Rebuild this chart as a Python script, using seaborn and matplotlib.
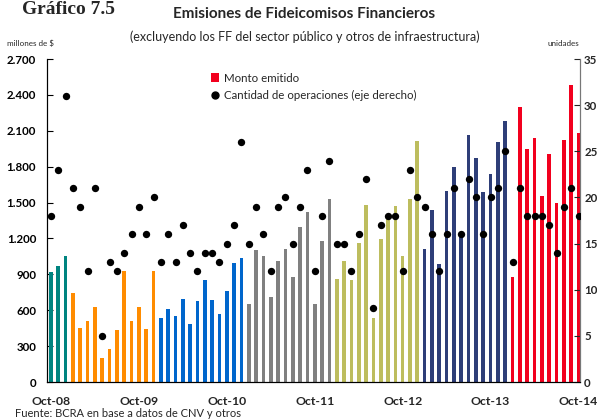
import pandas as pd
import numpy as np
import seaborn as sns
import matplotlib.pyplot as plt
from matplotlib.lines import Line2D
from matplotlib.patches import Patch

# Monto emitido (millones de $), por año (2008 desde octubre, 2014 hasta octubre)
monto_2008 = [918, 968, 1052]
monto_2009 = [742, 452, 508, 625, 198, 273, 432, 926, 508, 625, 441, 926]
monto_2010 = [533, 608, 550, 692, 483, 675, 851, 684, 566, 759, 993, 1035]
monto_2011 = [650, 1102, 1052, 709, 1010, 1110, 876, 1295, 1420, 650, 1177, 1529]
monto_2012 = [859, 1010, 851, 1161, 1479, 533, 1194, 1395, 1470, 1052, 1529, 2014]
monto_2013 = [1110, 1437, 985, 1596, 1797, 1250, 2065, 1872, 1588, 1738, 2006, 2182]
monto_2014 = [876, 2299, 1947, 2039, 1554, 1906, 1495, 2023, 2483, 2081]

# Cantidad de operaciones (unidades)
ops_2008 = [18, 23, 31]
ops_2009 = [21, 19, 12, 21, 5, 13, 12, 14, 16, 19, 16, 20]
ops_2010 = [13, 16, 13, 17, 14, 12, 14, 14, 13, 15, 17, 26]
ops_2011 = [15, 19, 16, 12, 19, 20, 15, 19, 23, 12, 18, 24]
ops_2012 = [15, 15, 12, 16, 22, 8, 17, 18, 18, 12, 23, 20]
ops_2013 = [19, 16, 12, 16, 21, 16, 22, 20, 16, 20, 21, 25]
ops_2014 = [13, 21, 18, 18, 18, 17, 14, 19, 21, 18]

years = ['2008', '2009', '2010', '2011', '2012', '2013', '2014']
year_colors = ['#008480', '#FF8C00', '#0066CC', '#808080', '#BDBD5E', '#2E3E78', '#F2001E']
tick_labels = ['Oct-08', 'Oct-09', 'Oct-10', 'Oct-11', 'Oct-12', 'Oct-13', 'Oct-14']

montos = [monto_2008, monto_2009, monto_2010, monto_2011, monto_2012, monto_2013, monto_2014]
opss = [ops_2008, ops_2009, ops_2010, ops_2011, ops_2012, ops_2013, ops_2014]

data = pd.DataFrame({
    'anio': [y for y, m in zip(years, montos) for _ in m],
    'monto': [v for m in montos for v in m],
    'ops': [v for o in opss for v in o],
})
data['pos'] = np.arange(len(data))
data['mes'] = [f'm{i:02d}' for i in data['pos']]

sns.set_style('white')
plt.rcParams['font.family'] = ['Lato', 'DejaVu Sans']

fig = plt.figure(figsize=(5.97, 4.19), dpi=100)
ax = fig.add_axes([0.0792, 0.0883, 0.8923, 0.7707])

# bars: one category per month, coloured by year
sns.barplot(data=data, x='mes', y='monto', hue='anio', palette=year_colors,
            dodge=False, width=0.5, legend=False, ax=ax, saturation=1,
            linewidth=0)

ax2 = ax.twinx()
sns.scatterplot(data=data, x='pos', y='ops', color='black', s=28,
                edgecolor='black', linewidth=0, ax=ax2, zorder=5)

ax.set_xlim(-0.5, 72.2)
ax2.set_xlim(-0.5, 72.2)
ax.set_ylim(0, 2700)
ax2.set_ylim(0, 35)

ax.set_yticks(np.arange(0, 2701, 300))
ax.set_yticklabels([f'{v:,}'.replace(',', '.') for v in range(0, 2701, 300)],
                   fontweight='bold', fontsize=8.3)
ax2.set_yticks(np.arange(0, 36, 5))
ax2.set_yticklabels([str(v) for v in range(0, 36, 5)], fontweight='bold', fontsize=8.3)

ax.set_xticks(np.arange(0, 73, 12))
ax.set_xticklabels(tick_labels, fontweight='bold', fontsize=8.8)
ax.set_xticks(np.arange(11.5, 72, 12), minor=True)

ax.tick_params(axis='y', direction='in', length=4, width=0.8, pad=8, colors='black')
ax.tick_params(axis='x', which='major', length=0, pad=10)
ax.tick_params(axis='x', which='minor', direction='in', length=3, width=0.8)
ax2.tick_params(axis='y', direction='in', length=4, width=0.8, pad=3)
ax2.tick_params(axis='x', length=0, labelbottom=False)

ax.set_xlabel('')
ax.set_ylabel('')
ax2.set_xlabel('')
ax2.set_ylabel('')

for a in (ax, ax2):
    a.spines['top'].set_visible(False)
    a.spines['left'].set_color('black')
    a.spines['bottom'].set_color('black')
    a.spines['right'].set_color('#777777')
ax.grid(False)
ax2.grid(False)

handles = [Patch(facecolor='#F2001E', edgecolor='none'),
           Line2D([], [], marker='o', color='black', linestyle='none', markersize=5)]
fig.legend(handles, ['Monto emitido', 'Cantidad de operaciones (eje derecho)'],
           loc='upper left', bbox_to_anchor=(0.345, 0.837), frameon=False,
           fontsize=8.3, handlelength=0.75, handleheight=0.8, handletextpad=0.4,
           labelspacing=0.5, borderaxespad=0)

fig.text(0.51, 0.967, 'Emisiones de Fideicomisos Financieros', ha='center',
         va='center', fontsize=11, fontweight='bold')
fig.text(0.511, 0.912, '(excluyendo los FF del sector público y otros de infraestructura)',
         ha='center', va='center', fontsize=9)
fig.text(0.037, 0.998, 'Gráfico 7.5', ha='left', va='top', fontsize=14,
         fontweight='bold', family=['Liberation Serif', 'DejaVu Serif'])
fig.text(0.012, 0.897, 'millones de $', ha='left', va='center', fontsize=5.8)
fig.text(0.943, 0.897, 'unidades', ha='center', va='center', fontsize=5.8)
fig.text(0.025, 0.014, 'Fuente: BCRA en base a datos de CNV y otros', ha='left',
         va='center', fontsize=8)

plt.savefig('out.png', dpi=100)
